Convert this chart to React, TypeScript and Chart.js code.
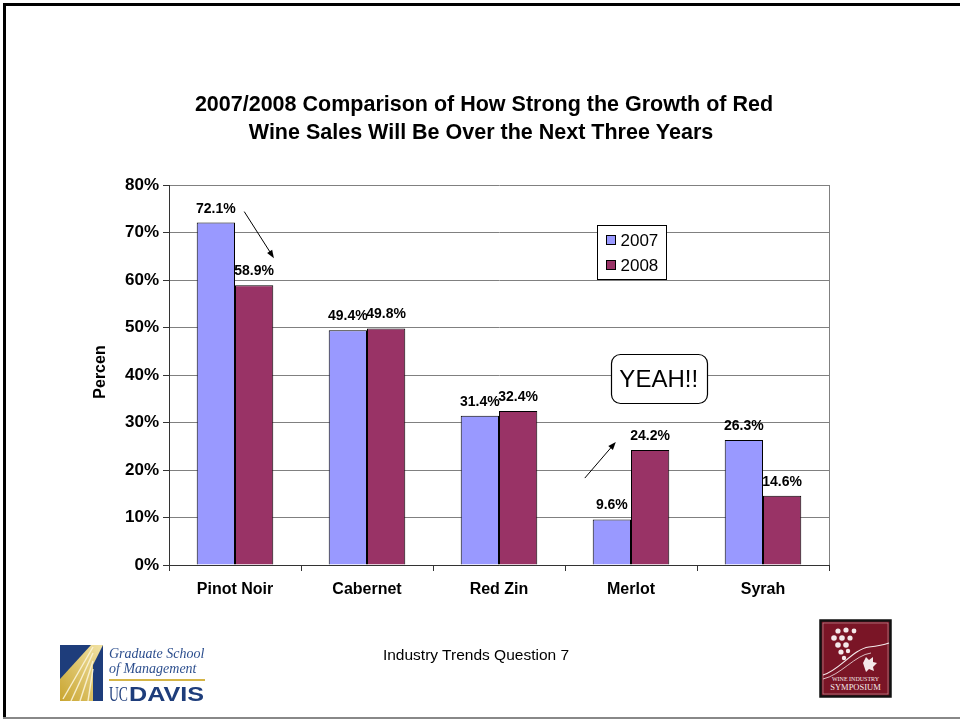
import React, { useEffect, useRef } from "react";
import { Chart, registerables } from "chart.js";

Chart.register(...registerables);

// ---- chart data ----
const categories = ["Pinot Noir", "Cabernet", "Red Zin", "Merlot", "Syrah"];
const seriesNames = ["2007", "2008"];
const values2007 = [72.1, 49.4, 31.4, 9.6, 26.3];
const values2008 = [58.9, 49.8, 32.4, 24.2, 14.6];
const seriesColors = ["#9999FF", "#993366"];
const titleLines = [
  "2007/2008 Comparison of How Strong the Growth of Red",
  "Wine Sales Will Be Over the Next Three Years",
];
const yAxisTitle = "Percen";
const yMin = 0;
const yMax = 80;
const yStep = 10;
const calloutText = "YEAH!!";
const footerText = "Industry Trends Question 7";

// arrows in data space: [category index offset, percent]
const arrows = [
  { from: [0.07, 74.4], to: [0.295, 64.6] },
  { from: [2.65, 18.3], to: [2.885, 25.9] },
];
// callout centre in data space
const callout = { x: 3.21, y: 39.2 };

const SANS = "'Liberation Sans', Arial, Helvetica, sans-serif";

const fmtPct = (v: number) => `${v.toFixed(1)}%`;

function drawArrow(ctx: CanvasRenderingContext2D, x1: number, y1: number, x2: number, y2: number) {
  const ang = Math.atan2(y2 - y1, x2 - x1);
  const len = 8;
  const half = 3;
  ctx.beginPath();
  ctx.moveTo(x1, y1);
  ctx.lineTo(x2 - Math.cos(ang) * len * 0.8, y2 - Math.sin(ang) * len * 0.8);
  ctx.stroke();
  ctx.beginPath();
  ctx.moveTo(x2, y2);
  ctx.lineTo(
    x2 - Math.cos(ang) * len + Math.sin(ang) * half,
    y2 - Math.sin(ang) * len - Math.cos(ang) * half
  );
  ctx.lineTo(
    x2 - Math.cos(ang) * len - Math.sin(ang) * half,
    y2 - Math.sin(ang) * len + Math.cos(ang) * half
  );
  ctx.closePath();
  ctx.fill();
}

const decorations = {
  id: "decorations",
  afterDraw(chart: any) {
    const ctx: CanvasRenderingContext2D = chart.ctx;
    const a = chart.chartArea;
    const xs = chart.scales.x;
    const ys = chart.scales.y;
    const catW = xs.getPixelForValue(1) - xs.getPixelForValue(0);
    const px = (c: number) => xs.getPixelForValue(0) + c * catW;
    ctx.save();

    // plot frame, right edge
    ctx.strokeStyle = "#808080";
    ctx.lineWidth = 1;
    ctx.beginPath();
    ctx.moveTo(Math.round(a.right) + 0.5, a.top);
    ctx.lineTo(Math.round(a.right) + 0.5, a.bottom);
    ctx.stroke();

    // title
    ctx.fillStyle = "#000";
    ctx.textAlign = "center";
    ctx.textBaseline = "alphabetic";
    ctx.font = `bold 21.5px ${SANS}`;
    ctx.fillText(titleLines[0], 484, 111);
    ctx.fillText(titleLines[1], 481, 139);

    // y axis title
    ctx.save();
    ctx.translate(101, (a.top + a.bottom) / 2 - 3);
    ctx.rotate(-Math.PI / 2);
    ctx.font = `bold 16px ${SANS}`;
    ctx.textBaseline = "middle";
    ctx.fillText(yAxisTitle, 0, 0);
    ctx.restore();

    // value labels
    ctx.font = `bold 14px ${SANS}`;
    ctx.textAlign = "center";
    ctx.textBaseline = "alphabetic";
    chart.data.datasets.forEach((ds: any, i: number) => {
      chart.getDatasetMeta(i).data.forEach((el: any, j: number) => {
        ctx.fillText(fmtPct(ds.data[j]), el.x, el.y - 10);
      });
    });

    // legend
    const lx = a.left + 428.5;
    const ly = a.top + 40.5;
    ctx.fillStyle = "#fff";
    ctx.fillRect(lx, ly, 69, 54);
    ctx.strokeStyle = "#000";
    ctx.strokeRect(lx, ly, 69, 54);
    ctx.font = `17px ${SANS}`;
    ctx.textAlign = "left";
    ctx.textBaseline = "middle";
    chart.data.datasets.forEach((ds: any, i: number) => {
      const cy = ly + 15 + i * 25;
      ctx.fillStyle = ds.backgroundColor;
      ctx.fillRect(lx + 9, cy - 5, 9, 9);
      ctx.strokeStyle = "#000";
      ctx.strokeRect(lx + 9, cy - 5, 9, 9);
      ctx.fillStyle = "#000";
      ctx.fillText(ds.label, lx + 23, cy + 1);
    });

    // arrows
    ctx.strokeStyle = "#000";
    ctx.fillStyle = "#000";
    ctx.lineWidth = 1;
    arrows.forEach((ar) => {
      drawArrow(
        ctx,
        px(ar.from[0]),
        ys.getPixelForValue(ar.from[1]),
        px(ar.to[0]),
        ys.getPixelForValue(ar.to[1])
      );
    });

    // callout
    const cx = px(callout.x);
    const cy = ys.getPixelForValue(callout.y);
    const bw = 96;
    const bh = 49;
    ctx.beginPath();
    (ctx as any).roundRect(Math.round(cx - bw / 2) + 0.5, Math.round(cy - bh / 2) + 0.5, bw, bh, 9);
    ctx.fillStyle = "#fff";
    ctx.fill();
    ctx.strokeStyle = "#000";
    ctx.lineWidth = 1.2;
    ctx.stroke();
    ctx.fillStyle = "#000";
    ctx.font = `24px ${SANS}`;
    ctx.textAlign = "center";
    ctx.textBaseline = "middle";
    ctx.fillText(calloutText, cx, cy + 2);

    ctx.restore();
  },
};

function UCDavisLogo() {
  return (
    <svg width="150" height="62" viewBox="0 0 150 62" style={{ position: "absolute", left: 59, top: 643 }}>
      <defs>
        <linearGradient id="gold" x1="0" y1="1" x2="1" y2="0">
          <stop offset="0" stopColor="#C9A530" />
          <stop offset="1" stopColor="#F2E3A6" />
        </linearGradient>
      </defs>
      <rect x="1" y="2" width="43" height="56" fill="url(#gold)" />
      <polygon points="1,2 32,2 1,36" fill="#1E3D7B" />
      <polygon points="44,2 44,58 34,58 34,22" fill="#1E3D7B" />
      <g stroke="#FBF4D8" strokeWidth="1.4" opacity="0.9">
        <line x1="34" y1="4" x2="4" y2="56" />
        <line x1="34" y1="10" x2="12" y2="58" />
        <line x1="34" y1="18" x2="21" y2="58" />
        <line x1="34" y1="26" x2="29" y2="58" />
      </g>
      <text x="50" y="15" fontFamily="'Liberation Serif', 'DejaVu Serif', serif" fontStyle="italic" fontSize="14" fill="#2D4F8E">
        Graduate School
      </text>
      <text x="50" y="30" fontFamily="'Liberation Serif', 'DejaVu Serif', serif" fontStyle="italic" fontSize="14" fill="#2D4F8E">
        of Management
      </text>
      <rect x="50" y="36" width="96" height="2" fill="#D5B546" />
      <text
        x="50"
        y="58"
        fontFamily="'Liberation Serif', serif"
        fontSize="20"
        fill="#1E3D7B"
        textLength="19"
        lengthAdjust="spacingAndGlyphs"
      >
        UC
      </text>
      <text
        x="70"
        y="58"
        fontFamily={SANS}
        fontWeight="bold"
        fontSize="20"
        fill="#1E3D7B"
        textLength="75"
        lengthAdjust="spacingAndGlyphs"
      >
        DAVIS
      </text>
    </svg>
  );
}

function SymposiumLogo() {
  return (
    <svg width="74" height="80" viewBox="0 0 74 80" style={{ position: "absolute", left: 819, top: 619 }}>
      <rect x="1.5" y="1.5" width="70" height="76" fill="#7A1526" stroke="#111" strokeWidth="2.5" />
      <rect x="4" y="4" width="65" height="71" fill="none" stroke="#C9A0A6" strokeWidth="0.6" />
      <g fill="#F4E9EA">
        <circle cx="19" cy="12" r="2.6" />
        <circle cx="27" cy="11" r="2.6" />
        <circle cx="35" cy="12" r="2.4" />
        <circle cx="15" cy="19" r="2.8" />
        <circle cx="23" cy="19" r="2.8" />
        <circle cx="31" cy="19" r="2.6" />
        <circle cx="19" cy="26" r="2.8" />
        <circle cx="27" cy="26" r="2.8" />
        <circle cx="22" cy="33" r="2.6" />
        <circle cx="29" cy="32" r="2.2" />
        <circle cx="25" cy="39" r="2.2" />
      </g>
      <path d="M4 56 C 20 52, 34 30, 50 28 C 58 27, 64 26, 70 24" stroke="#F4E9EA" strokeWidth="1.2" fill="none" />
      <path d="M4 60 C 22 56, 36 36, 52 34" stroke="#F4E9EA" strokeWidth="0.8" fill="none" />
      <path d="M44 44 l3 -6 l3 3 l4 -3 l0 5 l4 1 l-4 4 l1 4 l-5 -2 l-3 3 z" fill="#F4E9EA" />
      <text x="36.5" y="62" textAnchor="middle" fontFamily="'Liberation Serif', serif" fontSize="6" fill="#F4E9EA">
        WINE INDUSTRY
      </text>
      <text x="36.5" y="71" textAnchor="middle" fontFamily="'Liberation Serif', serif" fontSize="8.5" fill="#F4E9EA">
        SYMPOSIUM
      </text>
    </svg>
  );
}

export default function App() {
  const canvasRef = useRef<HTMLCanvasElement | null>(null);

  useEffect(() => {
    if (!canvasRef.current) return;
    const chart = new Chart(canvasRef.current, {
      type: "bar",
      data: {
        labels: categories,
        datasets: [
          {
            label: seriesNames[0],
            data: values2007,
            backgroundColor: seriesColors[0],
            borderColor: "#000",
            borderWidth: 1,
          },
          {
            label: seriesNames[1],
            data: values2008,
            backgroundColor: seriesColors[1],
            borderColor: "#000",
            borderWidth: 1,
          },
        ],
      },
      options: {
        animation: false,
        responsive: false,
        devicePixelRatio: 1,
        layout: { padding: { left: 0, top: 185, right: 131, bottom: 116 } },
        datasets: {
          bar: { categoryPercentage: 0.58, barPercentage: 1.0 },
        },
        plugins: {
          legend: { display: false },
          title: { display: false },
          tooltip: { enabled: false },
        },
        scales: {
          x: {
            afterFit: (s: any) => {
              s.height = 40;
            },
            grid: {
              drawOnChartArea: false,
              drawTicks: true,
              tickLength: 6,
              color: "#333",
            },
            border: { color: "#333", width: 1 },
            ticks: {
              color: "#000",
              padding: 9,
              font: { family: SANS, size: 16, weight: "bold" },
            },
          },
          y: {
            min: yMin,
            max: yMax,
            afterFit: (s: any) => {
              s.width = 169;
            },
            grid: {
              color: "#808080",
              tickColor: "#333",
              tickLength: 6,
            },
            border: { color: "#333", width: 1 },
            ticks: {
              stepSize: yStep,
              color: "#000",
              padding: 4,
              font: { family: SANS, size: 17, weight: "bold" },
              callback: (v: any) => `${v}%`,
            },
          },
        },
      },
      plugins: [decorations],
    });
    return () => chart.destroy();
  }, []);

  return (
    <div
      style={{
        position: "fixed",
        left: 0,
        top: 0,
        width: 960,
        height: 721,
        background: "#fff",
        overflow: "hidden",
        fontFamily: SANS,
      }}
    >
      <canvas ref={canvasRef} width={960} height={721} style={{ position: "absolute", left: 0, top: 0 }} />
      {/* slide frame */}
      <div style={{ position: "absolute", left: 3, top: 3, width: 957, height: 3, background: "#000" }} />
      <div style={{ position: "absolute", left: 3, top: 3, width: 3, height: 715, background: "#000" }} />
      <div style={{ position: "absolute", left: 3, top: 717, width: 957, height: 2, background: "#888" }} />
      <div
        style={{
          position: "absolute",
          left: 476,
          top: 646,
          transform: "translateX(-50%)",
          fontSize: 15.5,
          whiteSpace: "nowrap",
          color: "#000",
          lineHeight: "18px",
        }}
      >
        {footerText}
      </div>
      <UCDavisLogo />
      <SymposiumLogo />
    </div>
  );
}
